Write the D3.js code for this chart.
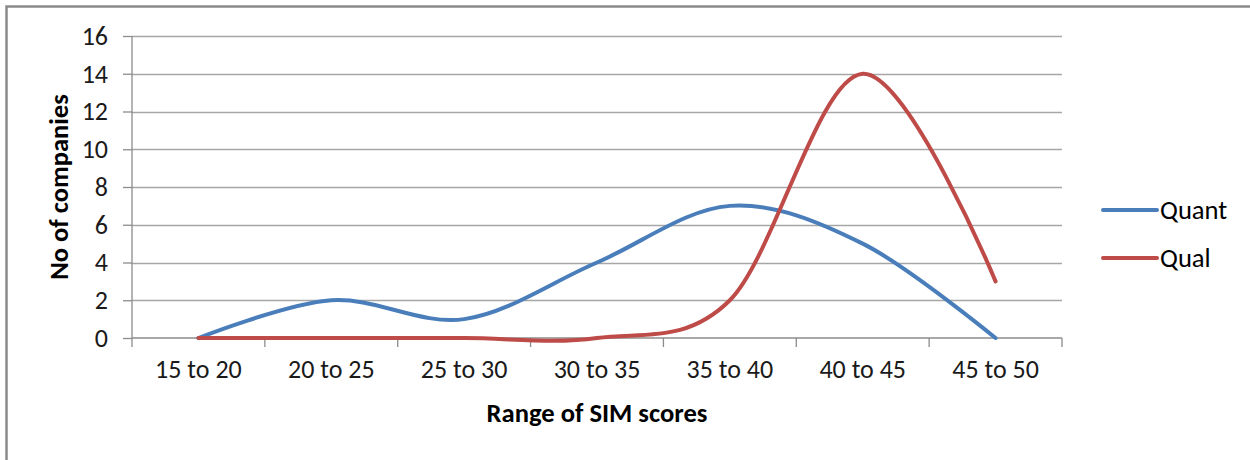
<!DOCTYPE html>
<meta charset="utf-8">
<title>SIM scores</title>
<style>
body {
  margin: 0px;
  font-family: Carlito, "Open Sans", sans-serif;
}
svg {
  background-color: #fff;
}
.grid line {
  stroke: #a6a6a6;
  stroke-width: 1.3px;
}
.axis path, .axis line {
  stroke: #8c8c8c;
  stroke-width: 1.3px;
}
.axis text {
  font-family: Carlito, "Open Sans", sans-serif;
  font-size: 26px;
  fill: #1a1a1a;
}
.title {
  font-size: 26.6px;
  font-weight: bold;
  fill: #000;
}
</style>
<script src="https://d3js.org/d3.v7.min.js"></script>
<body>
<script>

var width = 1250, height = 460;

var categories = ["15 to 20", "20 to 25", "25 to 30", "30 to 35", "35 to 40", "40 to 45", "45 to 50"];
var quant = [0, 2, 1, 4, 7, 5, 0];
var qual = [0, 0, 0, 0, 2, 14, 3];
var yTicks = [0, 2, 4, 6, 8, 10, 12, 14, 16];

var series = [
  {name: "Quant", values: quant, color: "#4a7ebb"},
  {name: "Qual", values: qual, color: "#be4b48"}
];

var margin = {left: 132, right: 1062, top: 36, bottom: 338};

var svg = d3.select("body").append("svg")
    .attr("width", width)
    .attr("height", height);

// chart border
svg.append("rect")
    .attr("x", 6.5)
    .attr("y", 6.5)
    .attr("width", 1260)
    .attr("height", 480)
    .attr("fill", "none")
    .attr("stroke", "#8a8a8a")
    .attr("stroke-width", 2.5);

var x = d3.scaleBand()
    .domain(categories)
    .range([margin.left, margin.right]);

var y = d3.scaleLinear()
    .domain([0, 16])
    .range([margin.bottom, margin.top]);

// horizontal gridlines
svg.append("g")
    .attr("class", "grid")
  .selectAll("line")
    .data(yTicks.filter(function(d) { return d > 0; }))
  .enter().append("line")
    .attr("x1", margin.left)
    .attr("x2", margin.right)
    .attr("y1", function(d) { return Math.round(y(d)) + 0.5; })
    .attr("y2", function(d) { return Math.round(y(d)) + 0.5; });

// y axis
var yAxis = svg.append("g")
    .attr("class", "axis")
    .attr("transform", "translate(" + margin.left + ",0)")
    .call(d3.axisLeft(y).tickValues(yTicks).tickSize(9).tickPadding(15).tickSizeOuter(0));
yAxis.select(".domain").attr("d", "M0," + margin.top + "V" + margin.bottom);

// x axis with ticks at band edges
var xAxis = svg.append("g")
    .attr("class", "axis")
    .attr("transform", "translate(0," + margin.bottom + ")")
    .call(d3.axisBottom(x).tickSize(0).tickPadding(22));
xAxis.select(".domain").attr("d", "M" + margin.left + ",0H" + margin.right);
xAxis.selectAll(".edge")
    .data(categories.map(function(d) { return x(d); }).concat([margin.right]))
  .enter().append("line")
    .attr("class", "edge")
    .attr("x1", function(d) { return d; })
    .attr("x2", function(d) { return d; })
    .attr("y1", 0)
    .attr("y2", 9);

// series lines (Excel smoothed lines)
var line = d3.line()
    .x(function(d, i) { return x(categories[i]) + x.bandwidth() / 2; })
    .y(function(d) { return y(d); })
    .curve(d3.curveCardinal.tension(0));

svg.selectAll(".series")
    .data(series)
  .enter().append("path")
    .attr("class", "series")
    .attr("d", function(d) { return line(d.values); })
    .attr("fill", "none")
    .attr("stroke", function(d) { return d.color; })
    .attr("stroke-width", 4)
    .attr("stroke-linecap", "round");

// axis titles
svg.append("text")
    .attr("class", "title")
    .attr("x", 597)
    .attr("y", 422)
    .attr("text-anchor", "middle")
    .text("Range of SIM scores");

svg.append("text")
    .attr("class", "title")
    .attr("transform", "translate(68," + 187 + ") rotate(-90)")
    .attr("text-anchor", "middle")
    .text("No of companies");

// legend
var legend = svg.selectAll(".legend")
    .data(series)
  .enter().append("g")
    .attr("class", "legend")
    .attr("transform", function(d, i) { return "translate(1103," + (210 + i * 48) + ")"; });

legend.append("line")
    .attr("x1", 0)
    .attr("x2", 54)
    .attr("stroke", function(d) { return d.color; })
    .attr("stroke-width", 4)
    .attr("stroke-linecap", "round");

legend.append("text")
    .attr("x", 57)
    .attr("dy", "0.35em")
    .style("font-size", "26.6px")
    .text(function(d) { return d.name; });

</script>
